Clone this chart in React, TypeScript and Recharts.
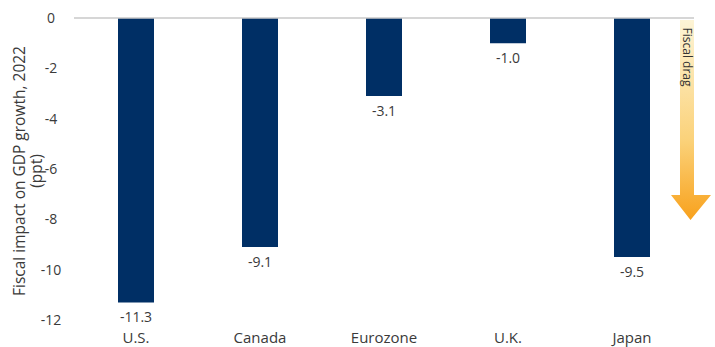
import React from 'react';
import { BarChart, Bar, XAxis, YAxis, ReferenceLine, LabelList } from 'recharts';

const regions = ['U.S.', 'Canada', 'Eurozone', 'U.K.', 'Japan'];
const fiscalImpact = [-11.3, -9.1, -3.1, -1.0, -9.5];
const yTicks = [0, -2, -4, -6, -8, -10, -12];

const data = regions.map((region, i) => ({ region, value: fiscalImpact[i] }));

const FONT = '"Open Sans", "Noto Sans", sans-serif';
const TEXT = '#3a3a3a';

const YLabel = (props: any) => {
  const { viewBox } = props;
  const cy = viewBox.y + viewBox.height / 2 + 2;
  return (
    <text
      transform={`translate(25, ${cy}) rotate(-90)`}
      textAnchor="middle"
      fill={TEXT}
      fontSize={15.5}
      fontFamily={FONT}
    >
      <tspan x={0} dy={0}>Fiscal impact on GDP growth, 2022</tspan>
      <tspan x={0} dy={17}>(ppt)</tspan>
    </text>
  );
};

const YTick = (props: any) => {
  const { y, payload } = props;
  return (
    <text x={51} y={y} dy={5} textAnchor="middle" fill={TEXT} fontSize={14} fontFamily={FONT}>
      {payload.value}
    </text>
  );
};

const BarValue = (props: any) => {
  const { x, y, width, height, value } = props;
  const bottom = Math.max(Number(y), Number(y) + Number(height));
  return (
    <text
      x={Number(x) + Number(width) / 2}
      y={bottom + 20}
      textAnchor="middle"
      fill={TEXT}
      fontSize={14}
      fontFamily={FONT}
    >
      {Number(value).toFixed(1)}
    </text>
  );
};

const App: React.FC = () => {
  return (
    <div style={{ position: 'absolute', left: 0, top: 0, width: 715, height: 347, background: '#fff' }}>
      <BarChart
        width={715}
        height={347}
        data={data}
        margin={{ top: 18, right: 21, bottom: 0, left: 0 }}
      >
        <XAxis
          dataKey="region"
          axisLine={false}
          tickLine={false}
          tickSize={0}
          tickMargin={12}
          height={27}
          interval={0}
          tick={{ fill: TEXT, fontSize: 15, fontFamily: FONT }}
        />
        <YAxis
          domain={[-12, 0]}
          ticks={yTicks}
          width={74}
          axisLine={false}
          tickLine={false}
          interval={0}
          tick={YTick}
          label={{ content: YLabel }}
        />
        <ReferenceLine y={0} stroke="#c8c8c8" strokeWidth={1.5} />
        <Bar dataKey="value" fill="#002f65" barSize={36} isAnimationActive={false}>
          <LabelList dataKey="value" content={BarValue} />
        </Bar>
      </BarChart>
      <svg width={715} height={347} style={{ position: 'absolute', left: 0, top: 0, pointerEvents: 'none' }}>
        <defs>
          <linearGradient id="dragGrad" x1="0" y1="0" x2="0" y2="1">
            <stop offset="0%" stopColor="#fdf4d6" />
            <stop offset="60%" stopColor="#fbd27a" />
            <stop offset="100%" stopColor="#f8a11c" />
          </linearGradient>
        </defs>
        <path d="M680,20 L694,20 L694,195 L711,195 L690.5,220 L671,195 L680,195 Z" fill="url(#dragGrad)" />
        <text
          transform="translate(687, 57) rotate(90)"
          textAnchor="middle"
          dominantBaseline="central"
          fill="#333"
          fontSize={12}
          fontFamily={FONT}
        >
          Fiscal drag
        </text>
      </svg>
    </div>
  );
};

export default App;
